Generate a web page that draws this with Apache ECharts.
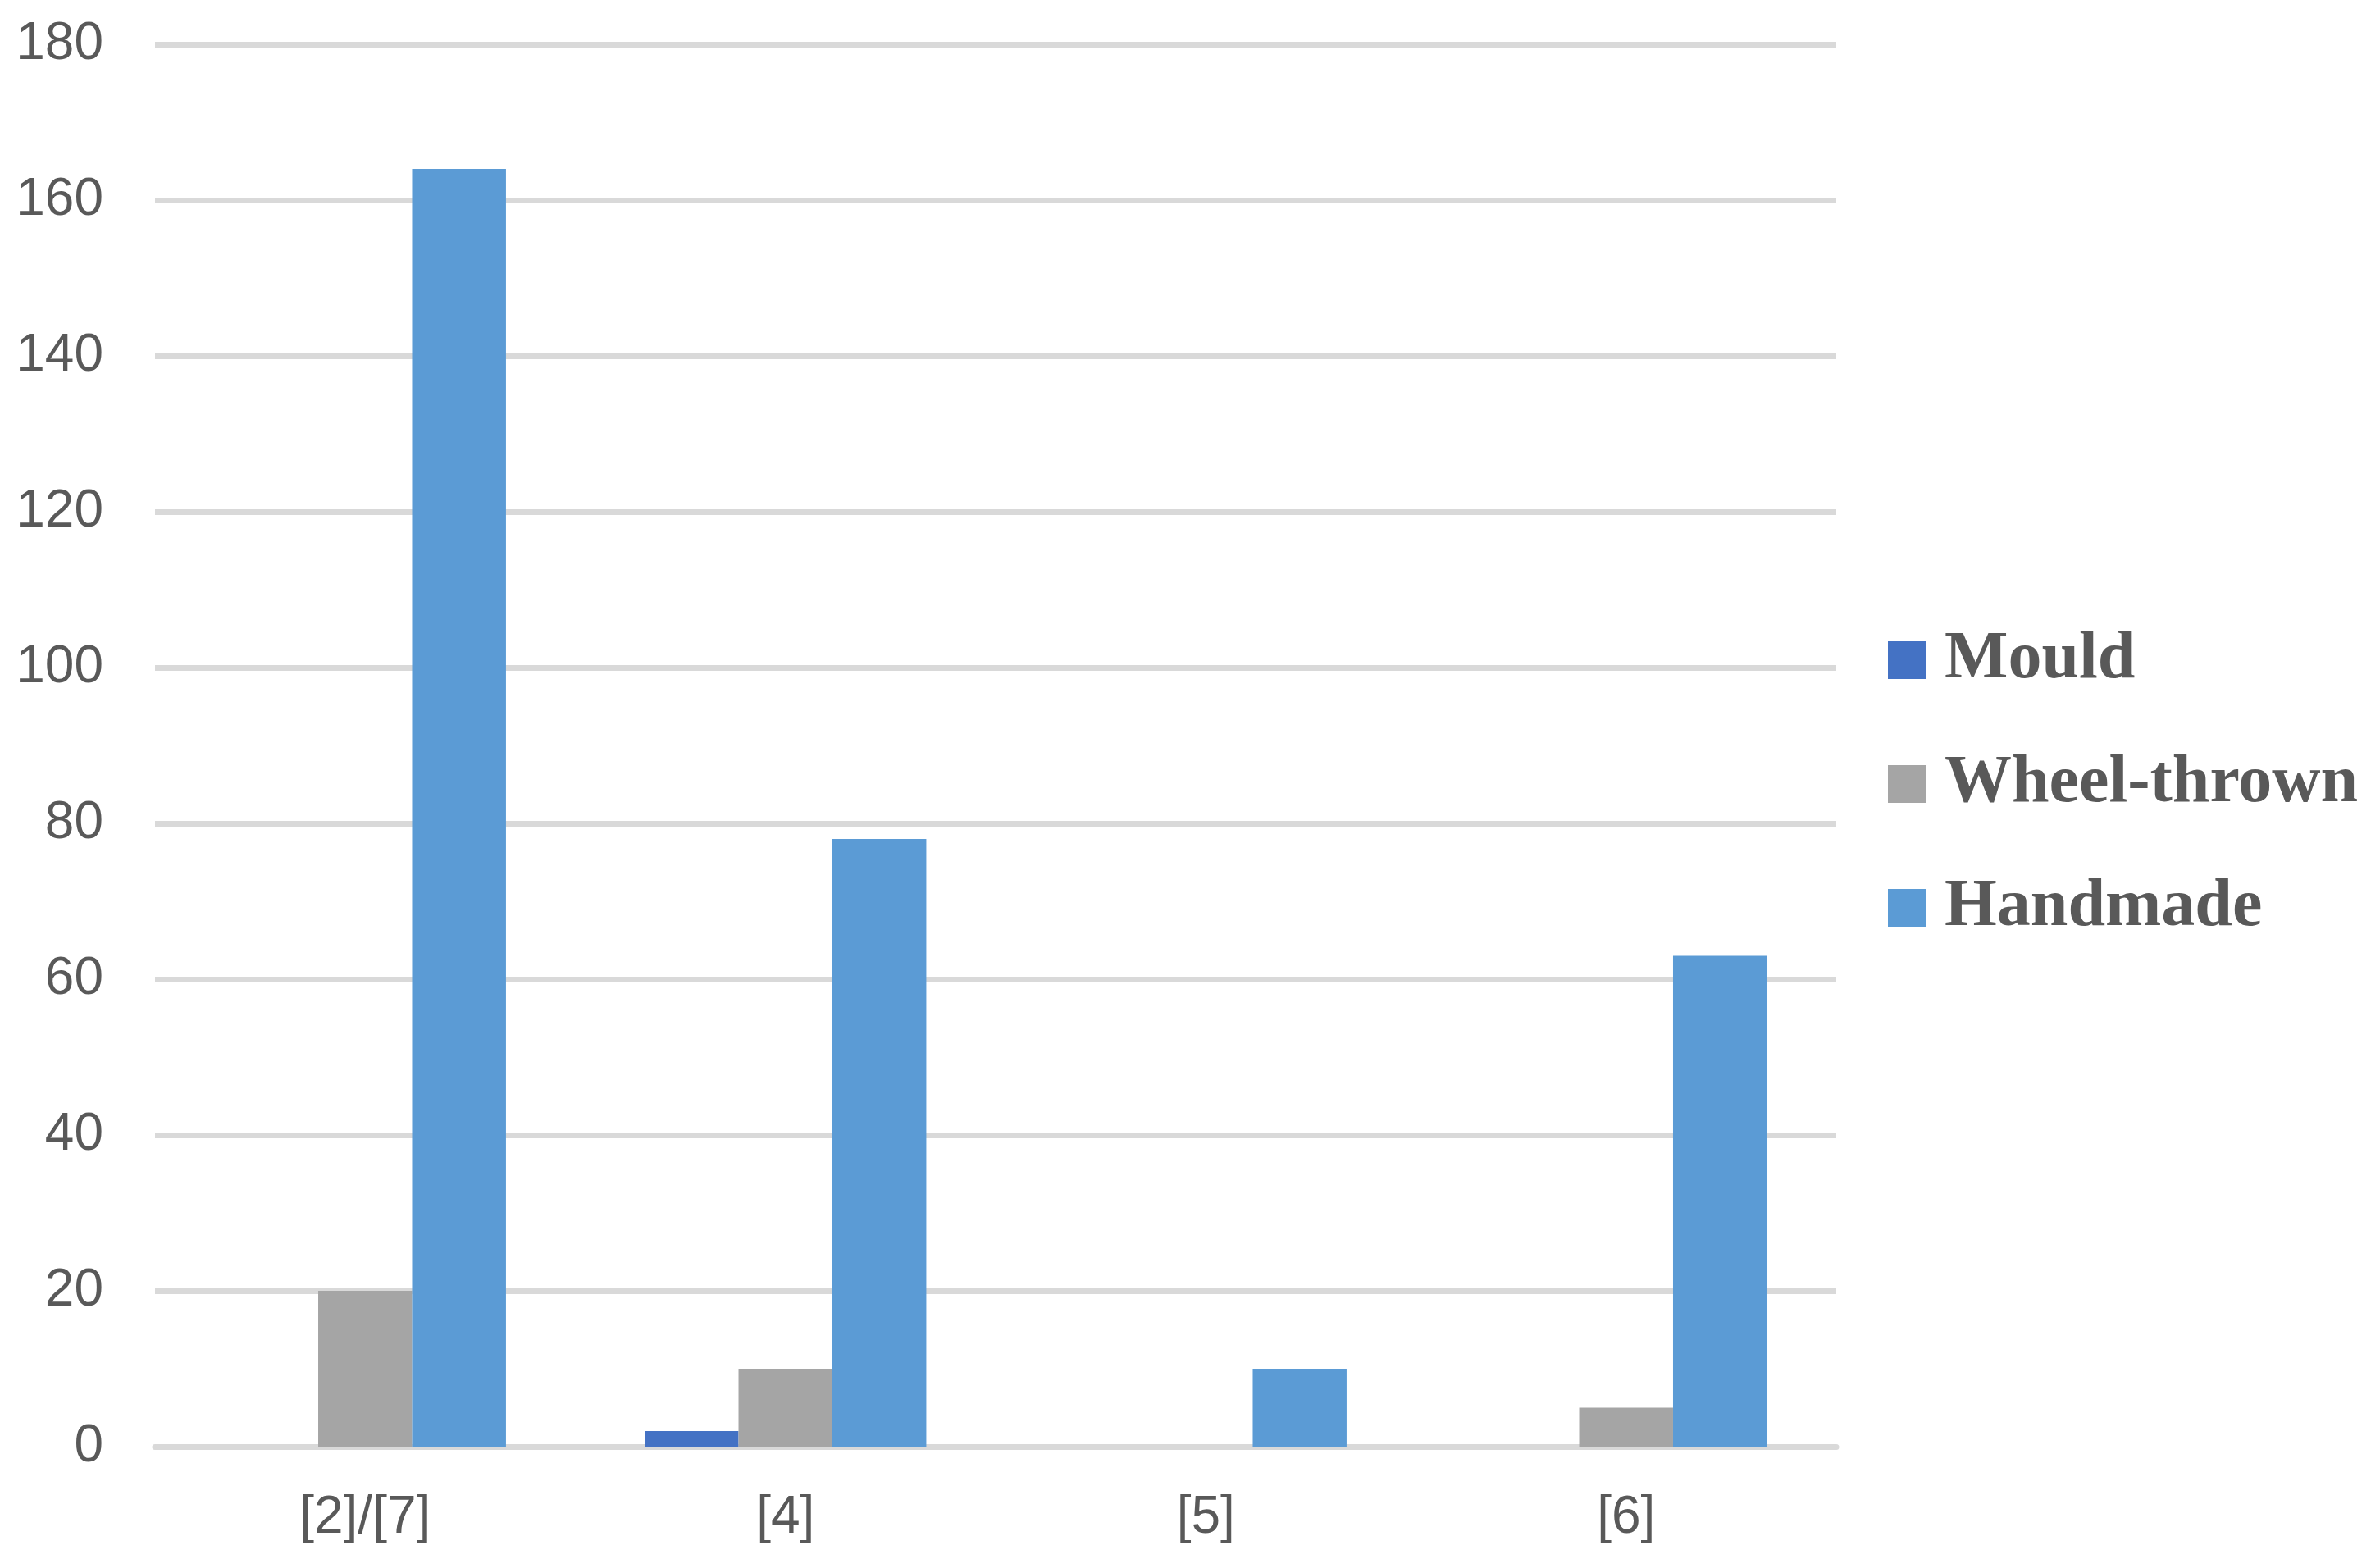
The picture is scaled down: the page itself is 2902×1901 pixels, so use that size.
<!DOCTYPE html>
<html>
<head>
<meta charset="utf-8">
<script src="https://cdn.jsdelivr.net/npm/echarts@6/dist/echarts.min.js"></script>
<style>
  html, body { margin: 0; padding: 0; background: #fff; }
  #chart { width: 2902px; height: 1901px; }
</style>
</head>
<body>
<div id="chart"></div>
<script>
// data
const categories = ['[2]/[7]', '[4]', '[5]', '[6]'];
const seriesNames = ['Mould', 'Wheel-thrown', 'Handmade'];
const mould = [0, 2, 0, 0];
const wheelThrown = [20, 10, 0, 5];
const handmade = [164, 78, 10, 63];
const colors = ['#4472C4', '#A5A5A5', '#5B9BD5'];

const chart = echarts.init(document.getElementById('chart'));

const makeBar = (name, data, color) => ({
    name: name,
    type: 'bar',
    data: data,
    barGap: '0%',
    barCategoryGap: '33%',
    itemStyle: { color: color },
});

const option = {
    animation: false,
    grid: { left: 189, right: 663, top: 54, bottom: 137 },
    legend: {
        orient: 'vertical',
        left: 2297,
        top: 759,
        itemWidth: 46,
        itemHeight: 46,
        itemGap: 69,
        icon: 'rect',
        textStyle: {
            fontFamily: 'Liberation Serif',
            fontWeight: 'bold',
            fontSize: 82,
            lineHeight: 82,
            color: '#595959',
            padding: [0, 0, 0, 18],
        },
        data: seriesNames,
    },
    xAxis: {
        type: 'category',
        data: categories,
        axisLine: { show: true, lineStyle: { color: '#d9d9d9', width: 7 } },
        axisTick: { show: false },
        axisLabel: {
            fontFamily: 'Liberation Sans',
            fontSize: 64,
            color: '#595959',
            margin: 55,
        },
    },
    yAxis: {
        type: 'value',
        min: 0,
        max: 180,
        interval: 20,
        axisLine: { show: false },
        axisTick: { show: false },
        splitLine: { lineStyle: { color: '#d9d9d9', width: 7 } },
        axisLabel: {
            fontFamily: 'Liberation Sans',
            fontSize: 64,
            color: '#595959',
            margin: 63,
        },
    },
    series: [
        makeBar(seriesNames[0], mould, colors[0]),
        makeBar(seriesNames[1], wheelThrown, colors[1]),
        makeBar(seriesNames[2], handmade, colors[2]),
    ],
};

chart.setOption(option);
window.addEventListener('resize', () => chart.resize());
</script>
</body>
</html>
